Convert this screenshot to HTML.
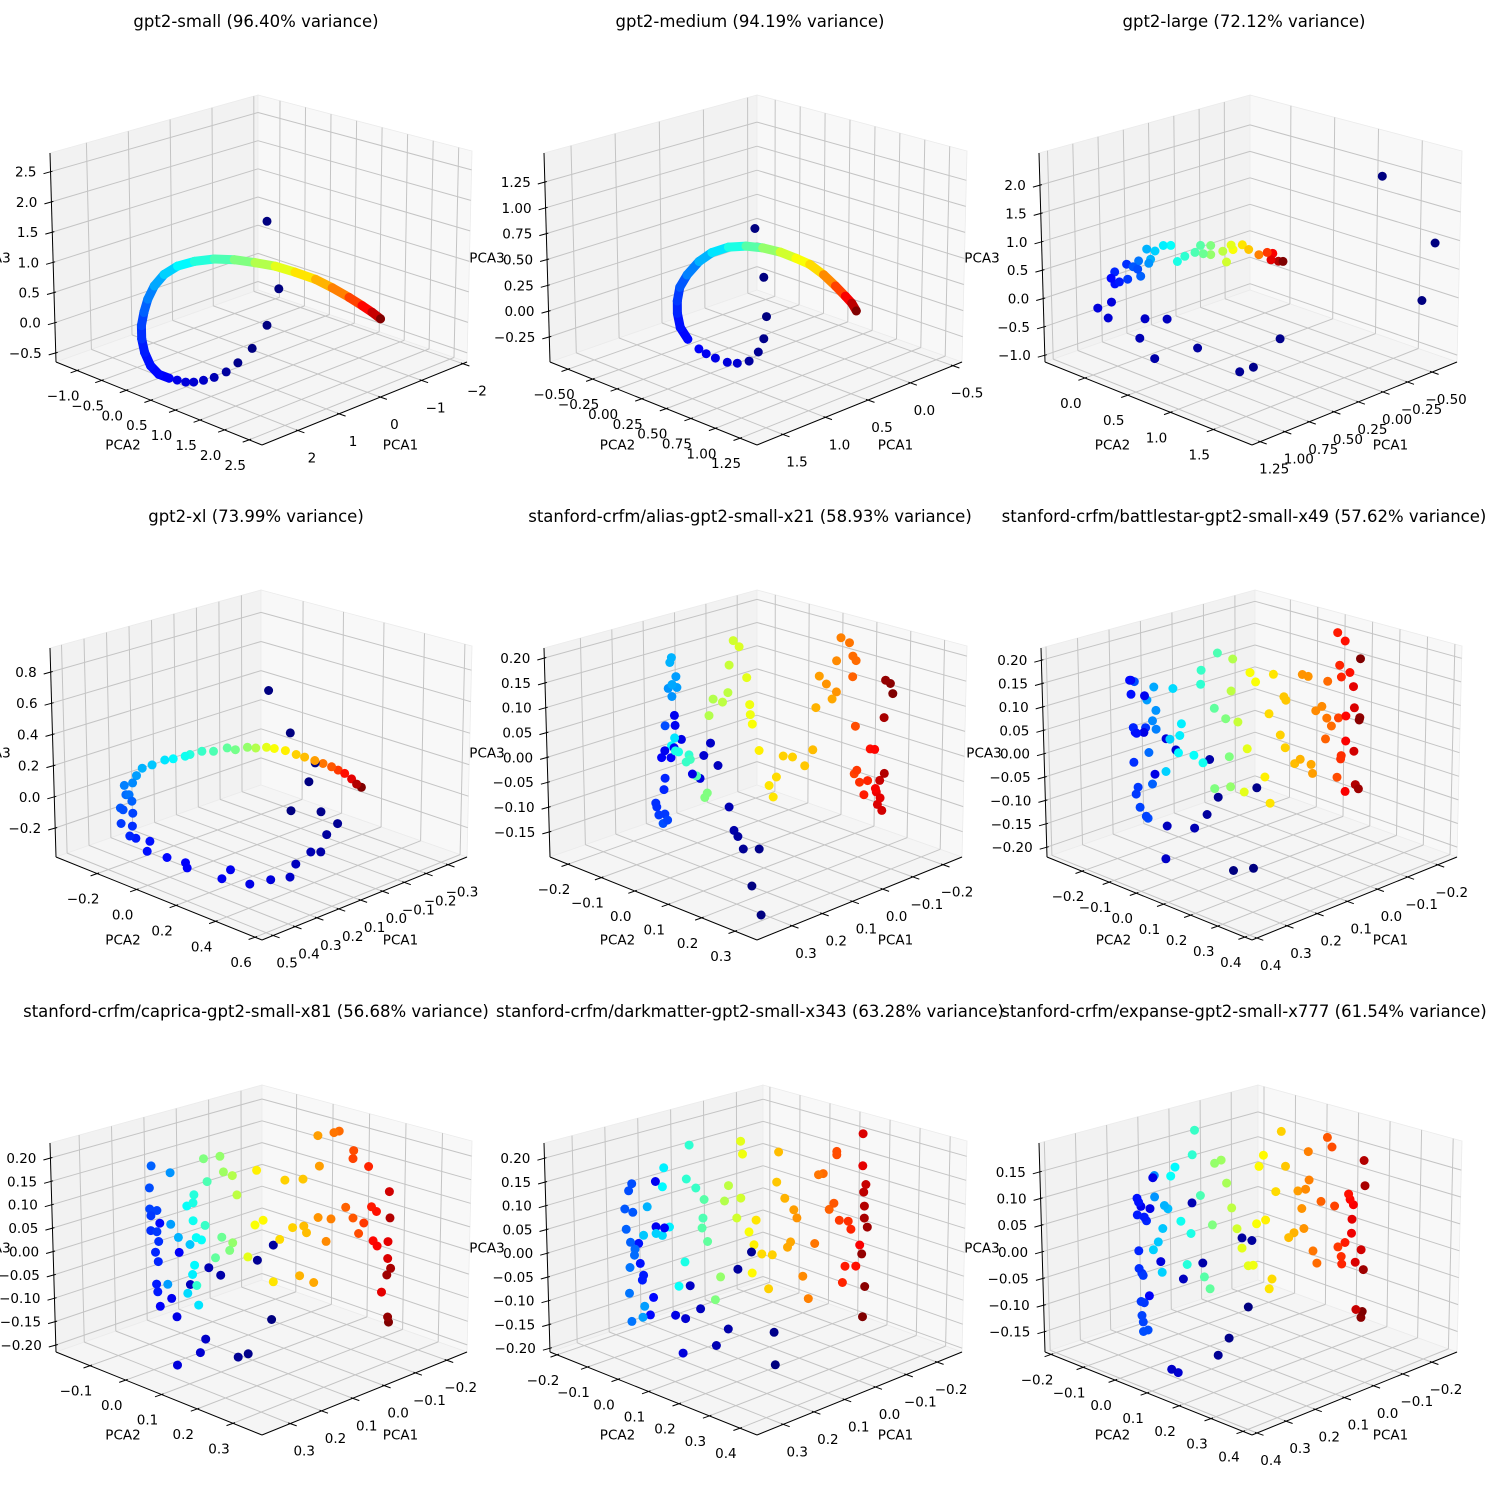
<!DOCTYPE html>
<html><head><meta charset="utf-8"><title>PCA 3D projections</title>
<style>
html,body{margin:0;padding:0;background:#fff;}
svg{display:block;font-family:"DejaVu Sans","Liberation Sans",sans-serif;}
</style></head>
<body>
<svg id="fig" width="1500" height="1500" viewBox="0 0 1500 1500" xmlns="http://www.w3.org/2000/svg"></svg>
<script>
// ---------- panel 1: gpt2-small ----------
const p1_pca1=[0.31,0.17,0.31,0.49,0.66,0.80,0.95,1.08,1.20,1.30,1.40,1.50,1.62,1.72,1.79,1.82,1.82,1.79,1.74,1.66,1.54,1.38,1.18,0.94,0.70,0.45,0.21,-0.03,-0.27,-0.47,-0.67,-0.83,-0.95,-1.05];
const p1_pca2=[0.73,0.85,0.73,0.58,0.43,0.31,0.19,0.08,-0.02,-0.10,-0.19,-0.27,-0.38,-0.46,-0.52,-0.55,-0.55,-0.52,-0.48,-0.41,-0.31,-0.17,0.00,0.20,0.40,0.61,0.81,1.01,1.22,1.39,1.56,1.69,1.79,1.88];
const p1_pca3=[1.71,0.60,0.00,-0.38,-0.62,-0.77,-0.86,-0.91,-0.94,-0.94,-0.91,-0.88,-0.82,-0.68,-0.46,-0.24,-0.02,0.20,0.42,0.64,0.83,0.97,1.05,1.09,1.08,1.03,0.97,0.87,0.75,0.61,0.45,0.31,0.20,0.09];
const p1_pos=[0,0,0,0,0.01,0.03,0.05,0.07,0.08,0.09,0.1,0.12,0.13,0.14,0.15,0.17,0.19,0.22,0.25,0.29,0.33,0.37,0.41,0.45,0.50,0.55,0.60,0.65,0.70,0.75,0.81,0.87,0.93,1.0];
const p1_t1=[-2,-1,0,1,2], p1_t2=[-1,-0.5,0,0.5,1,1.5,2,2.5], p1_t3=[-0.5,0,0.5,1,1.5,2,2.5];
// ---------- panel 2: gpt2-medium ----------
const p2_pca1=[0.61,0.56,0.54,0.56,0.59,0.64,0.71,0.77,0.84,0.89,0.94,1.00,1.04,1.06,1.06,1.04,1.00,0.93,0.86,0.76,0.66,0.56,0.46,0.37,0.29,0.21,0.14,0.08,0.04,0.02];
const p2_pca2=[0.365,0.41,0.42,0.41,0.38,0.33,0.27,0.22,0.16,0.11,0.08,0.02,-0.02,-0.03,-0.03,-0.02,0.02,0.08,0.15,0.23,0.32,0.40,0.49,0.57,0.64,0.71,0.77,0.82,0.85,0.88];
const p2_pca3=[0.82,0.35,-0.03,-0.24,-0.37,-0.46,-0.48,-0.47,-0.43,-0.39,-0.34,-0.25,-0.14,0.00,0.12,0.25,0.37,0.50,0.59,0.64,0.65,0.63,0.59,0.53,0.47,0.37,0.26,0.16,0.09,0.02];
const p2_pos=[0,0,0,0.01,0.02,0.03,0.08,0.09,0.10,0.11,0.12,0.13,0.14,0.16,0.18,0.21,0.25,0.30,0.35,0.40,0.46,0.52,0.58,0.62,0.66,0.74,0.81,0.88,0.94,1.0];
const p2_t1=[-0.5,0,0.5,1,1.5], p2_t2=[-0.5,-0.25,0,0.25,0.5,0.75,1,1.25], p2_t3=[-0.25,0,0.25,0.5,0.75,1,1.25];
// ---------- panel 3: gpt2-large ----------
const p3_pca1=[-0.36,-0.63,-0.57,0.14,0.28,0.35,0.56,0.78,0.85,0.71,0.82,1.01,0.99,1.06,0.99,0.97,0.95,0.97,0.91,0.91,0.86,0.84,0.88,0.85,0.80,0.79,0.81,0.77,0.73,0.69,0.66,0.62,0.57,0.54,0.53,0.49,0.49,0.43,0.41,0.39,0.38,0.33,0.30,0.25,0.21,0.18,0.19,0.15,0.13];
const p3_pca2=[1.50,1.81,1.74,0.91,0.76,0.68,0.43,0.18,0.09,0.25,0.12,-0.09,-0.07,-0.15,-0.07,-0.05,-0.02,-0.05,0.02,0.03,0.09,0.10,0.06,0.09,0.15,0.16,0.14,0.19,0.24,0.28,0.32,0.36,0.42,0.45,0.47,0.51,0.51,0.58,0.60,0.63,0.64,0.69,0.73,0.79,0.84,0.87,0.86,0.90,0.93];
const p3_pca3=[2.16,0.97,-0.03,-0.67,-1.16,-1.24,-0.83,-1.02,-0.67,-0.33,-0.33,-0.32,-0.04,-0.15,0.38,0.28,0.32,0.49,0.63,0.37,0.55,0.42,0.59,0.69,0.65,0.72,0.90,0.87,0.97,0.97,0.69,0.78,0.85,0.97,0.83,0.97,0.81,0.87,0.68,0.98,0.90,0.98,0.90,0.81,0.85,0.83,0.72,0.69,0.69];
const p3_pos=[0,0,0,0.01,0.01,0.02,0.03,0.04,0.05,0.06,0.07,0.08,0.09,0.09,0.13,0.14,0.15,0.16,0.17,0.18,0.20,0.22,0.21,0.24,0.27,0.30,0.30,0.33,0.36,0.38,0.40,0.42,0.45,0.46,0.48,0.50,0.52,0.56,0.58,0.60,0.62,0.65,0.68,0.75,0.82,0.88,0.90,0.95,1.0];
const p3_t1=[-0.5,-0.25,0,0.25,0.5,0.75,1,1.25], p3_t2=[0,0.5,1,1.5], p3_t3=[-1,-0.5,0,0.5,1,1.5,2];
// ---------- panel 4: gpt2-xl ----------
const p4_pca1=[0.066,0.017,-0.039,-0.025,0.015,-0.053,-0.091,-0.066,-0.053,-0.030,0.004,0.017,0.061,0.109,0.153,0.173,0.252,0.256,0.298,0.343,0.336,0.368,0.382,0.376,0.401,0.374,0.396,0.402,0.376,0.389,0.382,0.392,0.373,0.364,0.351,0.329,0.300,0.281,0.254,0.243,0.216,0.190,0.159,0.141,0.114,0.095,0.071,0.053,0.028,0.004,-0.015,-0.038,-0.057,-0.076,-0.091,-0.106,-0.122,-0.133,-0.144];
const p4_pca2=[0.132,0.186,0.249,0.233,0.188,0.264,0.306,0.279,0.264,0.239,0.201,0.186,0.137,0.084,0.035,0.013,-0.075,-0.079,-0.126,-0.176,-0.169,-0.204,-0.219,-0.212,-0.241,-0.211,-0.235,-0.242,-0.212,-0.227,-0.219,-0.231,-0.210,-0.200,-0.185,-0.160,-0.128,-0.107,-0.077,-0.065,-0.035,-0.006,0.028,0.049,0.079,0.100,0.127,0.146,0.174,0.201,0.222,0.248,0.268,0.290,0.306,0.323,0.340,0.353,0.365];
const p4_pca3=[0.693,0.422,0.230,0.110,-0.074,-0.082,-0.158,-0.227,-0.337,-0.337,-0.414,-0.497,-0.513,-0.541,-0.450,-0.507,-0.440,-0.407,-0.375,-0.337,-0.273,-0.255,-0.241,-0.177,-0.162,-0.095,-0.074,-0.063,-0.018,0.023,0.023,0.082,0.099,0.146,0.194,0.216,0.248,0.256,0.273,0.284,0.305,0.305,0.327,0.316,0.331,0.327,0.331,0.323,0.309,0.284,0.267,0.245,0.225,0.204,0.182,0.161,0.125,0.092,0.071];
const p4_pos=[0,0,0,0,0,0.01,0.02,0.03,0.04,0.05,0.06,0.07,0.09,0.1,0.11,0.11,0.12,0.12,0.13,0.14,0.14,0.15,0.16,0.17,0.18,0.19,0.2,0.21,0.22,0.23,0.24,0.25,0.26,0.28,0.3,0.32,0.35,0.37,0.39,0.41,0.43,0.45,0.47,0.49,0.52,0.55,0.6,0.62,0.64,0.67,0.69,0.72,0.76,0.79,0.82,0.86,0.9,0.95,1.0];
const p4_t1=[-0.3,-0.2,-0.1,0,0.1,0.2,0.3,0.4,0.5], p4_t2=[-0.2,0,0.2,0.4,0.6], p4_t3=[-0.2,0,0.2,0.4,0.6,0.8];
// ---------- panel 5: alias-gpt2-small-x21 ----------
const p5_pca1=[0.069,0.084,0.072,0.098,0.107,0.113,0.121,0.139,0.151,0.162,0.168,0.181,0.198,0.209,0.208,0.225,0.230,0.215,0.210,0.229,0.222,0.236,0.226,0.239,0.241,0.227,0.225,0.224,0.213,0.218,0.204,0.206,0.212,0.215,0.213,0.209,0.214,0.208,0.203,0.186,0.191,0.184,0.174,0.157,0.161,0.153,0.146,0.131,0.122,0.120,0.113,0.104,0.092,0.087,0.086,0.083,0.072,0.056,0.049,0.044,0.033,0.018,-0.002,-0.015,-0.020,-0.046,-0.025,-0.037,-0.053,-0.053,-0.060,-0.073,-0.079,-0.084,-0.079,-0.084,-0.083,-0.087,-0.092,-0.105,-0.099,-0.109,-0.116,-0.118,-0.120,-0.126,-0.122,-0.129,-0.125,-0.132,-0.131,-0.132,-0.140,-0.144];
const p5_pca2=[0.063,0.049,0.060,0.036,0.028,0.022,0.015,-0.001,-0.012,-0.022,-0.028,-0.039,-0.055,-0.065,-0.064,-0.080,-0.085,-0.071,-0.066,-0.084,-0.077,-0.090,-0.081,-0.093,-0.094,-0.082,-0.080,-0.079,-0.068,-0.074,-0.061,-0.062,-0.068,-0.071,-0.068,-0.065,-0.070,-0.064,-0.059,-0.044,-0.048,-0.042,-0.033,-0.017,-0.021,-0.014,-0.008,0.006,0.014,0.016,0.022,0.031,0.042,0.046,0.047,0.050,0.060,0.075,0.081,0.086,0.096,0.110,0.128,0.140,0.144,0.168,0.149,0.159,0.174,0.174,0.180,0.193,0.198,0.203,0.198,0.203,0.202,0.206,0.210,0.222,0.217,0.225,0.232,0.234,0.235,0.241,0.237,0.244,0.240,0.247,0.245,0.247,0.254,0.258];
const p5_pca3=[-0.311,-0.253,-0.179,-0.179,-0.154,-0.142,-0.095,-0.012,0.033,0.008,-0.038,-0.029,0.040,0.088,0.068,0.017,0.003,0.003,0.023,-0.129,-0.122,-0.112,-0.110,-0.096,-0.088,-0.061,-0.038,0.067,0.126,0.142,0.144,0.166,0.150,0.194,0.204,0.043,0.027,0.017,0.015,0.009,-0.005,0.000,-0.033,-0.067,-0.076,0.088,0.121,0.115,0.134,0.189,0.238,0.226,0.164,0.110,0.090,0.071,0.018,-0.052,-0.075,-0.035,0.007,0.005,-0.013,0.019,0.103,0.120,0.166,0.150,0.134,0.196,0.242,0.232,0.205,0.196,0.164,0.065,-0.030,-0.023,-0.047,-0.044,-0.072,0.019,0.018,-0.060,-0.067,-0.079,-0.092,-0.104,-0.044,-0.030,0.081,0.156,0.149,0.129];
const p5_pos=[0,0,0.01,0.02,0.03,0.04,0.05,0.06,0.07,0.08,0.09,0.1,0.1,0.11,0.11,0.11,0.12,0.12,0.12,0.2,0.19,0.18,0.18,0.17,0.17,0.16,0.16,0.2,0.27,0.27,0.28,0.28,0.29,0.3,0.3,0.35,0.38,0.4,0.4,0.42,0.43,0.44,0.45,0.5,0.5,0.55,0.55,0.56,0.56,0.57,0.58,0.59,0.6,0.61,0.61,0.62,0.64,0.65,0.65,0.66,0.67,0.67,0.68,0.69,0.7,0.71,0.72,0.73,0.73,0.74,0.75,0.76,0.77,0.77,0.78,0.8,0.81,0.82,0.83,0.84,0.85,0.86,0.87,0.88,0.89,0.9,0.91,0.92,0.93,0.95,0.96,0.98,0.99,1.0];
const p5_t1=[-0.2,-0.1,0,0.1,0.2,0.3], p5_t2=[-0.2,-0.1,0,0.1,0.2,0.3], p5_t3=[-0.15,-0.1,-0.05,0,0.05,0.1,0.15,0.2];
// ---------- panel 6: battlestar-gpt2-small-x49 ----------
const p6_pca1=[0.075,0.108,0.069,0.133,0.151,0.146,0.172,0.217,0.220,0.201,0.217,0.236,0.253,0.251,0.273,0.275,0.267,0.265,0.273,0.270,0.250,0.270,0.264,0.267,0.261,0.251,0.248,0.240,0.245,0.233,0.239,0.233,0.247,0.236,0.267,0.218,0.211,0.205,0.195,0.192,0.197,0.172,0.157,0.160,0.159,0.133,0.138,0.120,0.114,0.112,0.138,0.108,0.111,0.100,0.090,0.085,0.080,0.071,0.056,0.047,0.042,0.049,0.031,0.023,0.025,0.022,0.007,-0.002,-0.020,-0.022,-0.005,-0.014,-0.027,-0.037,-0.045,-0.046,-0.053,-0.043,-0.063,-0.064,-0.068,-0.069,-0.068,-0.065,-0.062,-0.074,-0.082,-0.076,-0.076,-0.076,-0.088,-0.090,-0.090,-0.093,-0.098,-0.099,-0.098,-0.099];
const p6_pca2=[0.050,0.013,0.056,-0.014,-0.035,-0.030,-0.058,-0.108,-0.111,-0.091,-0.108,-0.129,-0.148,-0.146,-0.170,-0.172,-0.164,-0.161,-0.170,-0.167,-0.145,-0.167,-0.160,-0.164,-0.157,-0.146,-0.143,-0.134,-0.140,-0.126,-0.132,-0.126,-0.142,-0.129,-0.164,-0.109,-0.101,-0.095,-0.083,-0.080,-0.086,-0.058,-0.042,-0.045,-0.044,-0.014,-0.021,0.000,0.006,0.008,-0.021,0.013,0.010,0.022,0.033,0.039,0.044,0.054,0.071,0.080,0.086,0.078,0.099,0.108,0.105,0.109,0.125,0.135,0.155,0.158,0.138,0.149,0.163,0.174,0.183,0.184,0.191,0.181,0.202,0.204,0.209,0.210,0.209,0.206,0.201,0.215,0.224,0.218,0.218,0.218,0.231,0.233,0.233,0.236,0.242,0.243,0.242,0.243];
const p6_pca3=[-0.239,-0.244,-0.068,-0.088,-0.125,-0.008,-0.154,-0.150,-0.220,0.012,0.036,-0.040,0.049,0.127,0.160,0.160,0.049,0.047,0.130,0.059,0.059,-0.015,-0.068,-0.083,-0.111,-0.130,-0.134,-0.061,0.006,0.056,0.074,0.096,0.118,0.146,0.157,-0.034,0.035,0.143,0.043,0.068,0.006,0.001,-0.015,0.152,0.182,0.219,0.101,0.079,-0.002,-0.066,-0.070,0.206,0.138,0.072,-0.077,0.015,0.177,0.157,-0.045,-0.101,0.173,0.089,0.044,0.017,0.125,0.118,-0.017,-0.008,-0.019,-0.038,0.172,0.168,0.095,0.104,0.079,0.157,0.062,0.035,-0.047,0.079,-0.008,-0.001,0.166,0.191,0.260,0.242,0.175,0.083,0.030,-0.077,0.145,0.100,0.008,-0.063,-0.072,0.079,0.074,0.204];
const p6_pos=[0,0,0.01,0.02,0.03,0.04,0.05,0.06,0.07,0.08,0.09,0.1,0.1,0.11,0.12,0.13,0.13,0.14,0.14,0.16,0.17,0.17,0.18,0.18,0.19,0.19,0.2,0.22,0.23,0.25,0.26,0.27,0.28,0.29,0.2,0.33,0.33,0.34,0.36,0.36,0.37,0.38,0.39,0.42,0.43,0.45,0.47,0.5,0.5,0.52,0.5,0.55,0.56,0.57,0.6,0.6,0.62,0.62,0.64,0.65,0.65,0.66,0.67,0.67,0.68,0.68,0.69,0.7,0.71,0.72,0.73,0.73,0.74,0.74,0.76,0.77,0.77,0.78,0.8,0.81,0.83,0.83,0.84,0.84,0.85,0.86,0.86,0.87,0.88,0.88,0.9,0.91,0.92,0.95,0.97,0.98,0.99,1.0];
const p6_t1=[-0.2,-0.1,0,0.1,0.2,0.3,0.4], p6_t2=[-0.2,-0.1,0,0.1,0.2,0.3,0.4], p6_t3=[-0.2,-0.15,-0.1,-0.05,0,0.05,0.1,0.15,0.2];
// ---------- panel 7: caprica-gpt2-small-x81 ----------
const p7_pca1=[0.047,0.084,0.100,0.069,0.044,0.127,0.146,0.175,0.152,0.160,0.197,0.197,0.205,0.223,0.192,0.222,0.227,0.228,0.225,0.229,0.224,0.236,0.227,0.236,0.226,0.237,0.237,0.234,0.205,0.205,0.211,0.193,0.175,0.179,0.162,0.171,0.168,0.165,0.157,0.170,0.179,0.170,0.168,0.165,0.151,0.147,0.135,0.125,0.113,0.108,0.153,0.127,0.122,0.108,0.101,0.084,0.073,0.060,0.070,0.044,0.034,0.026,0.014,-0.002,-0.004,-0.008,0.003,-0.020,-0.025,-0.028,-0.026,-0.039,-0.046,-0.050,-0.058,-0.069,-0.081,-0.090,-0.081,-0.080,-0.098,-0.104,-0.110,-0.118,-0.113,-0.119,-0.136,-0.136,-0.137,-0.139,-0.141,-0.135,-0.127,-0.137,-0.139];
const p7_pca2=[0.107,0.074,0.060,0.087,0.109,0.036,0.020,-0.006,0.015,0.007,-0.025,-0.025,-0.032,-0.048,-0.021,-0.047,-0.051,-0.053,-0.050,-0.054,-0.049,-0.060,-0.051,-0.059,-0.051,-0.061,-0.061,-0.058,-0.032,-0.032,-0.037,-0.022,-0.006,-0.010,0.005,-0.003,0.000,0.003,0.010,-0.001,-0.010,-0.001,0.000,0.003,0.015,0.018,0.029,0.038,0.049,0.053,0.014,0.036,0.041,0.053,0.059,0.074,0.084,0.095,0.086,0.109,0.118,0.125,0.136,0.150,0.151,0.155,0.146,0.165,0.170,0.172,0.171,0.182,0.189,0.192,0.199,0.209,0.219,0.227,0.219,0.218,0.234,0.240,0.244,0.251,0.247,0.253,0.268,0.268,0.269,0.270,0.272,0.267,0.260,0.269,0.270];
const p7_pca3=[-0.140,-0.213,-0.220,-0.014,0.018,-0.046,-0.030,-0.066,-0.182,-0.211,-0.238,-0.135,-0.096,-0.113,0.002,0.064,-0.082,-0.066,-0.018,0.002,0.025,0.048,0.046,0.080,0.091,0.094,0.139,0.186,0.172,0.062,-0.066,0.034,0.019,-0.085,-0.110,-0.045,-0.025,0.034,0.029,0.070,0.101,0.108,0.125,-0.068,0.060,0.153,-0.009,0.035,0.007,0.023,0.202,0.207,0.174,0.166,0.125,-0.007,0.061,0.071,0.177,-0.060,0.030,0.156,0.055,0.158,0.058,0.044,-0.047,-0.062,0.250,0.185,0.076,0.025,0.073,0.256,0.259,0.097,0.074,0.041,0.217,0.200,0.063,0.183,0.097,0.087,0.025,0.014,0.023,-0.013,0.129,0.073,-0.034,-0.048,-0.084,-0.137,-0.148];
const p7_pos=[0,0.01,0.02,0.02,0.03,0.04,0.05,0.06,0.07,0.08,0.09,0.1,0.11,0.12,0.12,0.13,0.15,0.15,0.16,0.16,0.17,0.17,0.18,0.18,0.19,0.19,0.2,0.22,0.27,0.28,0.28,0.3,0.32,0.34,0.35,0.36,0.37,0.38,0.38,0.39,0.38,0.4,0.41,0.42,0.43,0.45,0.47,0.48,0.5,0.52,0.5,0.52,0.53,0.55,0.56,0.6,0.62,0.63,0.64,0.65,0.66,0.67,0.67,0.68,0.69,0.69,0.7,0.71,0.72,0.72,0.73,0.74,0.75,0.76,0.77,0.78,0.79,0.8,0.8,0.81,0.82,0.84,0.85,0.86,0.87,0.88,0.9,0.91,0.92,0.95,0.96,0.97,0.9,0.98,1.0];
const p7_t1=[-0.2,-0.1,0,0.1,0.2,0.3], p7_t2=[-0.1,0,0.1,0.2,0.3], p7_t3=[-0.2,-0.15,-0.1,-0.05,0,0.05,0.1,0.15,0.2];
// ---------- panel 8: darkmatter-gpt2-small-x343 ----------
const p8_pca1=[0.024,0.026,0.062,0.084,0.100,0.119,0.144,0.160,0.168,0.173,0.184,0.213,0.213,0.200,0.219,0.224,0.241,0.239,0.234,0.236,0.250,0.255,0.262,0.249,0.260,0.254,0.247,0.248,0.255,0.257,0.254,0.236,0.233,0.227,0.233,0.213,0.203,0.192,0.200,0.202,0.178,0.168,0.160,0.165,0.150,0.137,0.139,0.140,0.132,0.120,0.112,0.105,0.098,0.085,0.079,0.079,0.076,0.066,0.061,0.058,0.055,0.046,0.029,0.035,0.022,0.019,0.009,0.000,0.005,-0.005,-0.010,-0.020,-0.029,-0.039,-0.044,-0.052,-0.062,-0.069,-0.073,-0.073,-0.078,-0.092,-0.097,-0.084,-0.088,-0.105,-0.111,-0.115,-0.115,-0.120,-0.117,-0.118,-0.118,-0.123,-0.115,-0.120,-0.117];
const p8_pca2=[0.145,0.143,0.106,0.084,0.068,0.048,0.023,0.006,-0.002,-0.006,-0.018,-0.048,-0.048,-0.034,-0.053,-0.059,-0.076,-0.074,-0.069,-0.071,-0.086,-0.091,-0.097,-0.085,-0.096,-0.089,-0.082,-0.083,-0.091,-0.092,-0.089,-0.071,-0.068,-0.061,-0.068,-0.048,-0.038,-0.026,-0.034,-0.037,-0.012,-0.002,0.007,0.002,0.017,0.030,0.028,0.026,0.035,0.047,0.056,0.063,0.069,0.082,0.089,0.089,0.092,0.102,0.107,0.110,0.114,0.123,0.140,0.134,0.147,0.150,0.160,0.170,0.165,0.175,0.180,0.190,0.199,0.209,0.215,0.222,0.232,0.240,0.244,0.244,0.249,0.264,0.268,0.255,0.259,0.277,0.283,0.286,0.286,0.292,0.288,0.290,0.290,0.295,0.286,0.292,0.289];
const p8_pca3=[-0.229,-0.161,0.007,-0.029,-0.154,-0.189,-0.112,-0.064,-0.133,-0.205,-0.126,0.154,0.059,0.057,-0.089,-0.126,0.024,-0.018,-0.043,-0.053,0.149,0.134,0.096,0.089,0.053,0.026,0.012,-0.001,-0.027,-0.081,-0.140,-0.131,-0.108,0.101,0.041,0.045,0.041,0.059,0.183,0.143,-0.065,-0.014,0.231,0.160,0.141,0.117,0.078,0.057,0.029,-0.093,-0.045,0.114,0.146,0.078,0.120,0.239,0.212,0.049,-0.037,0.022,0.074,0.003,0.001,-0.070,0.153,0.216,0.119,0.028,0.017,0.095,0.078,-0.044,-0.091,0.024,0.168,0.170,0.095,0.108,0.216,0.209,0.072,0.070,0.053,-0.058,-0.024,-0.024,0.020,0.185,0.252,0.146,0.130,0.101,0.076,0.057,0.001,-0.067,-0.130];
const p8_pos=[0,0.01,0.02,0.03,0.04,0.05,0.06,0.07,0.08,0.09,0.1,0.11,0.11,0.12,0.13,0.13,0.14,0.14,0.15,0.15,0.2,0.2,0.21,0.21,0.22,0.22,0.23,0.23,0.24,0.24,0.24,0.28,0.28,0.3,0.32,0.33,0.34,0.36,0.36,0.37,0.38,0.4,0.42,0.42,0.43,0.46,0.45,0.46,0.47,0.5,0.52,0.55,0.56,0.58,0.58,0.6,0.61,0.62,0.63,0.64,0.65,0.66,0.67,0.67,0.68,0.69,0.7,0.71,0.71,0.72,0.73,0.74,0.75,0.76,0.76,0.77,0.78,0.79,0.8,0.8,0.82,0.83,0.84,0.84,0.85,0.86,0.88,0.9,0.91,0.93,0.94,0.95,0.96,0.97,0.98,0.99,1.0];
const p8_t1=[-0.2,-0.1,0,0.1,0.2,0.3], p8_t2=[-0.2,-0.1,0,0.1,0.2,0.3,0.4], p8_t3=[-0.2,-0.15,-0.1,-0.05,0,0.05,0.1,0.15,0.2];
// ---------- panel 9: expanse-gpt2-small-x777 ----------
const p9_pca1=[0.073,0.106,0.125,0.084,0.067,0.150,0.167,0.183,0.204,0.193,0.220,0.232,0.237,0.252,0.240,0.258,0.256,0.258,0.247,0.243,0.257,0.257,0.252,0.250,0.254,0.249,0.253,0.251,0.243,0.251,0.229,0.229,0.213,0.207,0.216,0.224,0.232,0.218,0.195,0.202,0.186,0.169,0.176,0.166,0.162,0.153,0.147,0.138,0.133,0.129,0.118,0.109,0.101,0.092,0.084,0.073,0.065,0.059,0.055,0.048,0.044,0.038,0.033,0.027,0.018,0.011,0.005,-0.004,-0.010,-0.017,-0.020,-0.023,-0.027,-0.029,-0.036,-0.043,-0.049,-0.059,-0.067,-0.072,-0.078,-0.084,-0.085,-0.090,-0.095,-0.098,-0.104,-0.101,-0.102,-0.108,-0.118,-0.110,-0.121,-0.123,-0.122,-0.119,-0.121];
const p9_pca2=[0.097,0.067,0.050,0.088,0.103,0.027,0.011,-0.003,-0.023,-0.013,-0.038,-0.048,-0.053,-0.067,-0.056,-0.073,-0.070,-0.073,-0.062,-0.059,-0.071,-0.071,-0.067,-0.065,-0.069,-0.064,-0.068,-0.066,-0.059,-0.066,-0.046,-0.046,-0.031,-0.026,-0.034,-0.041,-0.049,-0.036,-0.014,-0.021,-0.006,0.009,0.003,0.012,0.016,0.024,0.029,0.038,0.042,0.046,0.056,0.064,0.072,0.080,0.088,0.097,0.105,0.110,0.114,0.121,0.124,0.130,0.134,0.140,0.148,0.155,0.160,0.168,0.174,0.180,0.184,0.186,0.190,0.191,0.198,0.204,0.210,0.219,0.226,0.231,0.237,0.242,0.243,0.248,0.253,0.255,0.260,0.258,0.258,0.264,0.273,0.266,0.276,0.278,0.277,0.274,0.276];
const p9_pca3=[-0.099,-0.157,-0.189,0.030,0.025,-0.017,0.095,-0.047,-0.216,-0.222,-0.015,0.142,0.084,0.088,-0.079,0.103,0.096,0.072,0.068,0.061,0.005,-0.028,-0.037,-0.041,-0.090,-0.092,-0.116,-0.128,-0.143,-0.146,0.146,0.106,0.090,0.084,0.047,0.022,0.007,-0.035,0.162,0.145,0.061,0.038,-0.020,0.185,0.231,0.109,-0.043,-0.065,0.054,0.169,0.175,0.132,0.086,0.047,0.011,-0.022,-0.021,0.056,0.163,0.184,0.063,-0.065,-0.047,0.116,0.228,0.163,0.030,0.039,0.117,0.084,0.047,0.120,0.190,0.137,0.005,-0.018,0.097,0.216,0.198,0.088,0.012,-0.006,-0.020,0.020,0.110,0.100,0.090,0.037,0.063,-0.017,0.006,-0.105,0.172,0.125,-0.031,-0.120,-0.109];
const p9_pos=[0,0.01,0.02,0.03,0.03,0.04,0.05,0.06,0.07,0.08,0.09,0.1,0.1,0.11,0.12,0.14,0.14,0.15,0.15,0.16,0.16,0.17,0.17,0.18,0.18,0.18,0.19,0.19,0.2,0.2,0.26,0.27,0.3,0.31,0.32,0.32,0.33,0.33,0.37,0.38,0.39,0.4,0.41,0.42,0.43,0.45,0.46,0.47,0.5,0.52,0.53,0.54,0.56,0.58,0.6,0.6,0.61,0.62,0.63,0.63,0.64,0.65,0.66,0.66,0.67,0.68,0.69,0.7,0.72,0.73,0.73,0.74,0.75,0.75,0.76,0.77,0.78,0.79,0.8,0.81,0.82,0.83,0.84,0.85,0.86,0.87,0.88,0.89,0.9,0.91,0.92,0.93,0.95,0.96,0.97,0.99,1.0];
const p9_t1=[-0.2,-0.1,0,0.1,0.2,0.3,0.4], p9_t2=[-0.2,-0.1,0,0.1,0.2,0.3,0.4], p9_t3=[-0.15,-0.1,-0.05,0,0.05,0.1,0.15];

// titles
const titles=["gpt2-small (96.40% variance)","gpt2-medium (94.19% variance)","gpt2-large (72.12% variance)","gpt2-xl (73.99% variance)","stanford-crfm/alias-gpt2-small-x21 (58.93% variance)","stanford-crfm/battlestar-gpt2-small-x49 (57.62% variance)","stanford-crfm/caprica-gpt2-small-x81 (56.68% variance)","stanford-crfm/darkmatter-gpt2-small-x343 (63.28% variance)","stanford-crfm/expanse-gpt2-small-x777 (61.54% variance)"];

// axis layout (domains + box geometry)
const panels=[
 {id:"gpt2-small",row:0,tx:256,bx:258,lx:56,rx:467,fx:262,d1:[-2.1,2.87],d2:[-1.43,2.76],d3:[-0.65,2.81],x:p1_pca1,y:p1_pca2,z:p1_pca3,c:p1_pos,t1:p1_t1,t2:p1_t2,t3:p1_t3,f1:0,f2:1,f3:1,curve:11},
 {id:"gpt2-medium",row:0,tx:750,bx:757,lx:550,rx:962,fx:757,d1:[-0.607,1.806],d2:[-0.683,1.423],d3:[-0.493,1.531],x:p2_pca1,y:p2_pca2,z:p2_pca3,c:p2_pos,t1:p2_t1,t2:p2_t2,t3:p2_t3,f1:1,f2:2,f3:2,curve:11},
 {id:"gpt2-large",row:0,tx:1244,bx:1250,lx:1045,rx:1457,fx:1252,d1:[-0.754,1.334],d2:[-0.467,1.953],d3:[-1.12,2.566],x:p3_pca1,y:p3_pca2,z:p3_pca3,c:p3_pos,t1:p3_t1,t2:p3_t2,t3:p3_t3,f1:2,f2:1,f3:1,curve:-1},
 {id:"gpt2-xl",row:1,tx:256,bx:261,lx:56,rx:467,fx:262,d1:[-0.387,0.551],d2:[-0.408,0.635],d3:[-0.386,0.954],x:p4_pca1,y:p4_pca2,z:p4_pca3,c:p4_pos,t1:p4_t1,t2:p4_t2,t3:p4_t3,f1:1,f2:1,f3:1,curve:-1},
 {id:"alias",row:1,tx:750,bx:757,lx:550,rx:962,fx:757,d1:[-0.263,0.416],d2:[-0.254,0.366],d3:[-0.2005,0.2202],x:p5_pca1,y:p5_pca2,z:p5_pca3,c:p5_pos,t1:p5_t1,t2:p5_t2,t3:p5_t3,f1:1,f2:1,f3:2,curve:-1},
 {id:"battlestar",row:1,tx:1244,bx:1255,lx:1047,rx:1457,fx:1252,d1:[-0.264,0.416],d2:[-0.329,0.426],d3:[-0.221,0.226],x:p6_pca1,y:p6_pca2,z:p6_pca3,c:p6_pos,t1:p6_t1,t2:p6_t2,t3:p6_t3,f1:1,f2:1,f3:2,curve:-1},
 {id:"caprica",row:2,tx:256,bx:262,lx:56,rx:467,fx:262,d1:[-0.265,0.39],d2:[-0.195,0.381],d3:[-0.215,0.232],x:p7_pca1,y:p7_pca2,z:p7_pca3,c:p7_pos,t1:p7_t1,t2:p7_t2,t3:p7_t3,f1:1,f2:1,f3:2,curve:-1},
 {id:"darkmatter",row:2,tx:750,bx:763,lx:550,rx:962,fx:757,d1:[-0.281,0.385],d2:[-0.223,0.456],d3:[-0.208,0.232],x:p8_pca1,y:p8_pca2,z:p8_pca3,c:p8_pos,t1:p8_t1,t2:p8_t2,t3:p8_t3,f1:1,f2:1,f3:2,curve:-1},
 {id:"expanse",row:2,tx:1244,bx:1258,lx:1045,rx:1457,fx:1252,d1:[-0.286,0.417],d2:[-0.219,0.428],d3:[-0.188,0.204],x:p9_pca1,y:p9_pca2,z:p9_pca3,c:p9_pos,t1:p9_t1,t2:p9_t2,t3:p9_t3,f1:1,f2:1,f3:2,curve:-1}
];

const NS="http://www.w3.org/2000/svg";
const svg=document.getElementById("fig");
function mk(tag,attrs,parent){const e=document.createElementNS(NS,tag);for(const k in attrs)e.setAttribute(k,attrs[k]);(parent||svg).appendChild(e);return e;}
function jet(t){const c=v=>Math.max(0,Math.min(1,v));const r=c(1.5-Math.abs(4*t-3)),g=c(1.5-Math.abs(4*t-2)),b=c(1.5-Math.abs(4*t-1));return "rgb("+Math.round(r*255)+","+Math.round(g*255)+","+Math.round(b*255)+")";}
function fmt(v,d){const s=Math.abs(v).toFixed(d);return (v<-1e-9?"\u2212":"")+s;}

panels.forEach((P,pi)=>{
  const oy=P.row*495;
  const g=mk("g",{});
  
  
  const B=[P.bx,290+oy],L=[P.lx,362+oy],R=[P.rx,362+oy],F=[P.fx,445+oy];
  const BT=[P.bx,95+oy],LT=[P.lx-6,153+oy],RT=[P.rx+5,151+oy],FT=[P.fx,219+oy];
  const proj=(a,b,c)=>{const bl=(q0,q1,q2,q3,i)=>q0[i]*(1-a)*(1-b)+q1[i]*a*(1-b)+q2[i]*(1-a)*b+q3[i]*a*b;
    const fx=bl(B,L,R,F,0),fy=bl(B,L,R,F,1),tx=bl(BT,LT,RT,FT,0),ty=bl(BT,LT,RT,FT,1);return [fx+(tx-fx)*c,fy+(ty-fy)*c];};
  const sA=v=>(v-P.d1[0])/(P.d1[1]-P.d1[0]);
  const sB=v=>(v-P.d2[0])/(P.d2[1]-P.d2[0]);
  const sC=v=>(v-P.d3[0])/(P.d3[1]-P.d3[0]);
  const pts=arr=>arr.map(p=>p[0].toFixed(1)+","+p[1].toFixed(1)).join(" ");
  // title
  const ti=mk("text",{x:P.tx,y:21+oy+6,"text-anchor":"middle","font-size":"16.5",fill:"#000"},g);
  ti.textContent=titles[pi];
  
  
  // panes
  const pl=mk("polygon",{points:pts([proj(0,0,0),proj(1,0,0),proj(1,0,1),proj(0,0,1)]),fill:"#f2f2f2",stroke:"#ebebeb","stroke-width":"0.8"},g);
  
  
  const pr=mk("polygon",{points:pts([proj(0,0,0),proj(0,1,0),proj(0,1,1),proj(0,0,1)]),fill:"#f8f8f8",stroke:"#ebebeb","stroke-width":"0.8"},g);
  
  
  const pf=mk("polygon",{points:pts([proj(0,0,0),proj(1,0,0),proj(1,1,0),proj(0,1,0)]),fill:"#f5f5f5",stroke:"#ebebeb","stroke-width":"0.8"},g);
  
  
  // grid
  const grid=mk("g",{stroke:"#c4c4c4","stroke-width":"1",fill:"none"},g);
  
  
  const line=(p,q,par,attrs)=>{const a=Object.assign({x1:p[0].toFixed(1),y1:p[1].toFixed(1),x2:q[0].toFixed(1),y2:q[1].toFixed(1)},attrs||{});return mk("line",a,par);};
  P.t1.forEach(v=>{const a=sA(v);
    const l1=line(proj(a,0,0),proj(a,0,1),grid);
    
    
    const l2=line(proj(a,0,0),proj(a,1,0),grid);
    
    });
  P.t2.forEach(v=>{const b=sB(v);
    const l1=line(proj(0,b,0),proj(0,b,1),grid);
    
    
    const l2=line(proj(0,b,0),proj(1,b,0),grid);
    
    });
  P.t3.forEach(v=>{const c=sC(v);
    const l1=line(proj(0,0,c),proj(1,0,c),grid);
    
    
    const l2=line(proj(0,0,c),proj(0,1,c),grid);
    
    });
  // axis lines
  const ax=mk("g",{stroke:"#000","stroke-width":"1",fill:"none"},g);
  
  
  const az=line(proj(1,0,0),proj(1,0,1),ax);
  
  
  const a2=line(proj(1,0,0),proj(1,1,0),ax);
  
  
  const a1=line(proj(1,1,0),proj(0,1,0),ax);
  
  
  const lab=mk("g",{"font-size":"13.5",fill:"#000"},g);
  
  
  // PCA2 ticks (on L->F edge)
  P.t2.forEach(v=>{const p=proj(1,sB(v),0);
    const tk=line([p[0]+2,p[1]-0.7],[p[0]-6.5,p[1]+2.3],ax);
    
    
    const t=mk("text",{x:(p[0]-14).toFixed(1),y:(p[1]+30).toFixed(1),"text-anchor":"middle"},lab);
    t.textContent=fmt(v,P.f2);
    
    });
  // PCA1 ticks (on F->R edge)
  P.t1.forEach(v=>{const p=proj(sA(v),1,0);
    const tk=line([p[0]-2,p[1]-0.7],[p[0]+6.5,p[1]+2.3],ax);
    
    
    const t=mk("text",{x:(p[0]+14).toFixed(1),y:(p[1]+32).toFixed(1),"text-anchor":"middle"},lab);
    t.textContent=fmt(v,P.f1);
    
    });
  // PCA3 ticks (on left vertical edge)
  P.t3.forEach(v=>{const p=proj(1,0,sC(v));
    const tk=line([p[0]+2,p[1]-0.5],[p[0]-7,p[1]+2],ax);
    
    
    const t=mk("text",{x:(p[0]-14).toFixed(1),y:(p[1]+5).toFixed(1),"text-anchor":"end"},lab);
    t.textContent=fmt(v,P.f3);
    
    });
  // axis titles
  const mL=proj(1,0.5,0), mR=proj(0.5,1,0), mZ=proj(1,0,0.5);
  const x2=mk("text",{x:(mL[0]-36).toFixed(1),y:(mL[1]+46).toFixed(1),"text-anchor":"middle","font-size":"13.5"},g);
  x2.textContent="PCA2";
  
  
  const x1=mk("text",{x:(mR[0]+36).toFixed(1),y:(mR[1]+46).toFixed(1),"text-anchor":"middle","font-size":"13.5"},g);
  x1.textContent="PCA1";
  
  
  const x3=mk("text",{x:(mZ[0]-60).toFixed(1),y:(mZ[1]+5).toFixed(1),"text-anchor":"middle","font-size":"13.5"},g);
  x3.textContent="PCA3";
  
  
  // data
  const n=Math.min(P.x.length,P.y.length,P.z.length,P.c.length);
  const sc=[];
  for(let i=0;i<n;i++){const a=sA(P.x[i]),b=sB(P.y[i]),c=sC(P.z[i]);sc.push({i,p:proj(a,b,c),d:a+b,col:jet(P.c[i])});}
  const marks=mk("g",{},g);
  
  
  if(P.curve>=0){
    for(let i=P.curve;i<n-1;i++){
      const s=line(sc[i].p,sc[i+1].p,marks,{stroke:sc[i].col,"stroke-width":"9","stroke-linecap":"round"});
      
      
    }
  }
  sc.slice().sort((u,v)=>u.d-v.d).forEach(s=>{
    const c=mk("circle",{cx:s.p[0].toFixed(1),cy:s.p[1].toFixed(1),r:"4.5",fill:s.col},marks);
    
    
  });
});
</script>
</body></html>
